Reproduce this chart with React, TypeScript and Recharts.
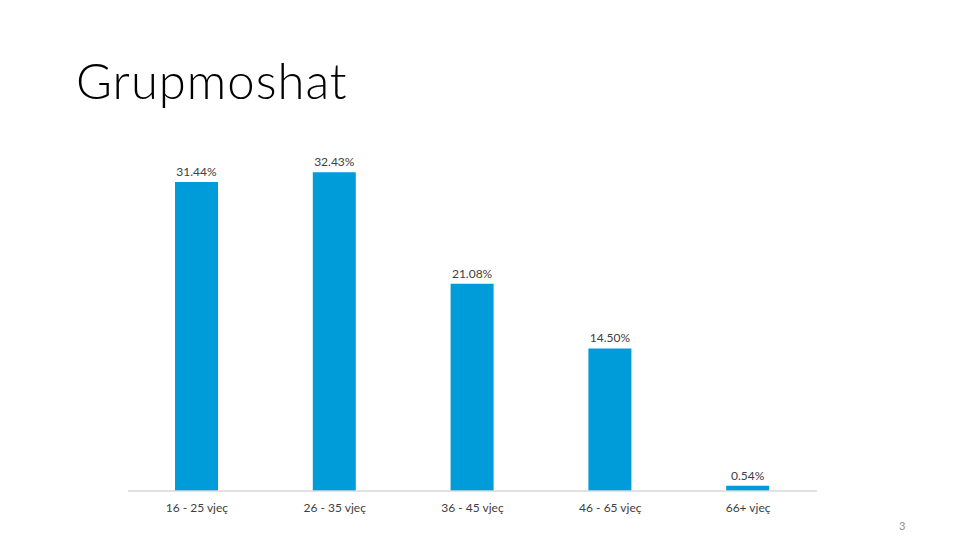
import { BarChart, Bar, XAxis, YAxis, LabelList } from "recharts";

const categories = ["16 - 25 vjeç", "26 - 35 vjeç", "36 - 45 vjeç", "46 - 65 vjeç", "66+ vjeç"];
const shares = [31.44, 32.43, 21.08, 14.5, 0.54];

const data = categories.map((name, i) => ({ name, value: shares[i] }));

const font = "Lato, 'Open Sans', sans-serif";

const App = () => {
  return (
    <div
      style={{
        position: "absolute",
        left: 0,
        top: 0,
        width: 980,
        height: 551,
        background: "#ffffff",
        fontFamily: font,
        overflow: "hidden",
      }}
    >
      <div
        style={{
          position: "absolute",
          left: 76,
          top: 50,
          fontSize: 49,
          fontWeight: 300,
          color: "#000000",
          letterSpacing: 1,
          lineHeight: "60px",
        }}
      >
        Grupmoshat
      </div>
      <BarChart
        width={980}
        height={551}
        data={data}
        margin={{ top: 147, right: 163, bottom: 30, left: 128 }}
        style={{ position: "absolute", left: 0, top: 0 }}
      >
        <XAxis
          dataKey="name"
          height={30}
          axisLine={{ stroke: "#d9d9d9", strokeWidth: 1.5 }}
          tickLine={false}
          tickMargin={6}
          tick={{ fill: "#404040", fontSize: 12, fontFamily: font }}
        />
        <YAxis hide domain={[0, 35]} />
        <Bar dataKey="value" fill="#009cd9" barSize={43} isAnimationActive={false}>
          <LabelList
            dataKey="value"
            position="top"
            offset={6}
            formatter={(v: number) => `${v.toFixed(2)}%`}
            style={{ fill: "#404040", fontSize: 12, fontFamily: font }}
          />
        </Bar>
      </BarChart>
      <div
        style={{
          position: "absolute",
          left: 899,
          top: 519,
          fontSize: 11,
          color: "#8c8c8c",
        }}
      >
        3
      </div>
    </div>
  );
};

export default App;
